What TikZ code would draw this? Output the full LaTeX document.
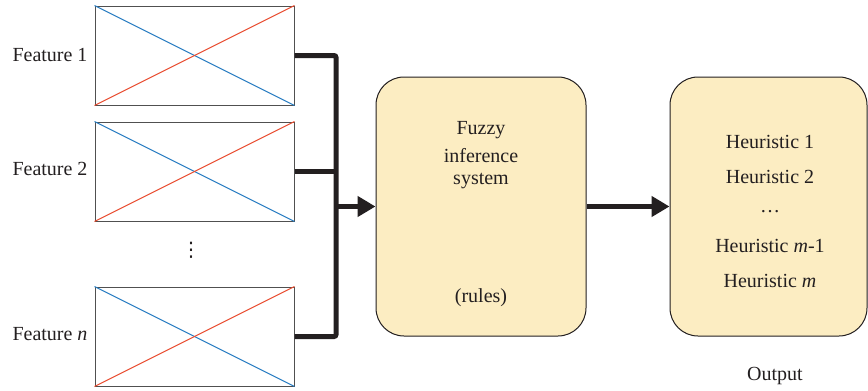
\documentclass[tikz,border=0pt]{standalone}
\usepackage{fontspec}
\setmainfont{Liberation Serif}
\newfontfamily\dotsfont{DejaVu Sans}
\usetikzlibrary{arrows.meta}
\definecolor{boxfill}{HTML}{FCEDC2}
\definecolor{crossblue}{HTML}{2379C0}
\definecolor{crossred}{HTML}{E8492C}
\definecolor{edgegray}{HTML}{505050}
\definecolor{ink}{HTML}{231F20}
\tikzset{
  feat/.style={draw=edgegray, line width=1pt, minimum width=199pt, minimum height=99pt, inner sep=0pt},
  stage/.style={draw=ink, line width=1pt, fill=boxfill, rounded corners=28pt, inner sep=0pt},
  txt/.style={text=ink, font=\fontsize{20}{24}\selectfont, inner sep=0pt},
  bus/.style={draw=ink, line width=5pt, rounded corners=2pt},
  busarrow/.style={draw=ink, line width=5pt, -{Triangle[length=18pt,width=20pt]}},
  diag/.style={line width=1pt}
}
\begin{document}
\begin{tikzpicture}[x=1pt,y=-1pt]
\useasboundingbox (0,0) rectangle (868,391);

% feature boxes with crossed diagonals
\foreach \nm/\cy in {f1/55.5, f2/171.5, fn/336.5} {
  \node[feat] (\nm) at (194.5,\cy) {};
  \draw[diag, crossblue] (\nm.north west) -- (\nm.south east);
  \draw[diag, crossred] (\nm.south west) -- (\nm.north east);
}
\node[txt] (l1) at (50,55) {Feature 1};
\node[txt] (l2) at (50,169) {Feature 2};
\node[txt] (ln) at (50,334) {Feature \textit{n}};
\node[txt, font=\dotsfont\fontsize{20}{24}\selectfont] (vd) at (191,250) {⋮};

% inference and output stages
\node[stage, minimum width=210pt, minimum height=259pt] (fis) at (481,206.5) {};
\node[stage, minimum width=197pt, minimum height=259pt] (out) at (768.5,206.5) {};

\node[txt] (t1) at (481,130) {Fuzzy};
\node[txt] (t2) at (481,156) {inference};
\node[txt] (t3) at (481,181) {system};
\node[txt] (t4) at (481,298) {(rules)};

\node[txt] (h1) at (770,142) {Heuristic 1};
\node[txt] (h2) at (770,177) {Heuristic 2};
\node[txt] (h3) at (770,212) {\dots};
\node[txt] (h4) at (770,246) {Heuristic \textit{m}-1};
\node[txt] (h5) at (770,281) {Heuristic \textit{m}};
\node[txt] (ol) at (775,376) {Output};

% bus collecting the features
\coordinate (bx) at (336,0);
\draw[bus] (f1.east) -- (f1.east -| bx) -- (fn.east -| bx) -- (fn.east);
\draw[bus] (f2.east) -- (f2.east -| bx);
\draw[busarrow] (fis.west -| bx) -- (fis.west);
\draw[busarrow] (fis.east) -- (out.west);
\end{tikzpicture}
\end{document}
